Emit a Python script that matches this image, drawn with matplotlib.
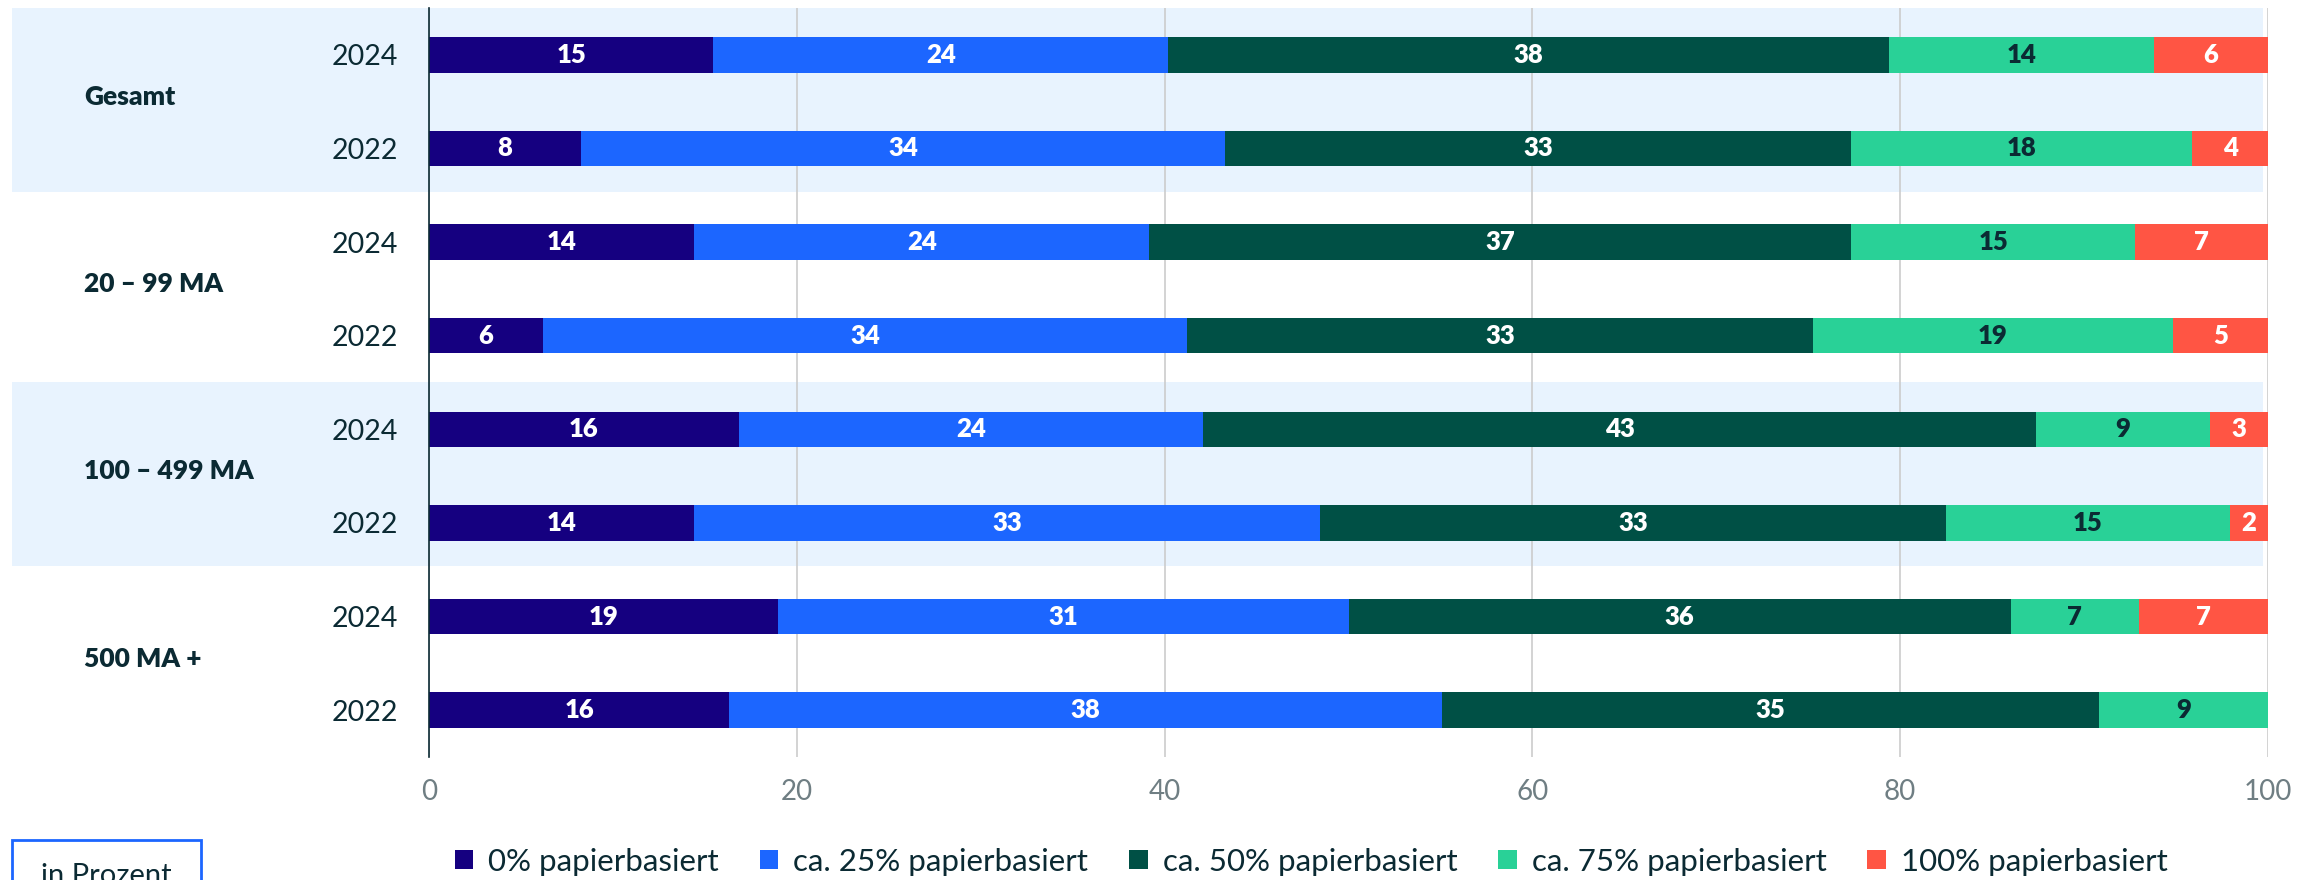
import matplotlib.pyplot as plt
import numpy as np
from matplotlib.patches import Patch, Rectangle
from matplotlib.transforms import blended_transform_factory

plt.rcParams['font.family'] = ['Lato', 'DejaVu Sans']

# categories (top to bottom)
groups = ['Gesamt', '20 – 99 MA', '100 – 499 MA', '500 MA +']
years = ['2024', '2022']

# series values per bar (top to bottom), as printed in the chart
series_names = ['0% papierbasiert', 'ca. 25% papierbasiert', 'ca. 50% papierbasiert',
                'ca. 75% papierbasiert', '100% papierbasiert']
p0 = [15, 8, 14, 6, 16, 14, 19, 16]
p25 = [24, 34, 24, 34, 24, 33, 31, 38]
p50 = [38, 33, 37, 33, 43, 33, 36, 35]
p75 = [14, 18, 15, 19, 9, 15, 7, 9]
p100 = [6, 4, 7, 5, 3, 2, 7, 0]

colors = ['#150080', '#1c66ff', '#005045', '#29d197', '#ff5544']
label_colors = ['white', 'white', 'white', '#0b2a33', 'white']
dark = '#0b2a33'

data = np.array([p0, p25, p50, p75, p100], dtype=float)
# stacked as percent of the total, like the original
share = data / data.sum(axis=0) * 100

fig = plt.figure(figsize=(23.18, 8.8), dpi=100)
ax = fig.add_axes([429 / 2318, 1 - 757 / 880, 1839 / 2318, 749 / 880])

n = share.shape[1]
y = np.arange(n)

# light blue bands behind groups 1 and 3
trans = blended_transform_factory(ax.transAxes, ax.transData)
for g in [0, 2]:
    ax.add_patch(Rectangle((-0.2268, 2 * g - 0.5), 0.2268 + 0.9973, 2.0 - 0.04,
                           transform=trans, facecolor='#e8f3fe', edgecolor='none',
                           clip_on=False, zorder=0))

left = np.zeros(n)
for i in range(len(series_names)):
    ax.barh(y, share[i], left=left, height=0.38, color=colors[i], zorder=3,
            label=series_names[i])
    for j in range(n):
        if data[i, j] > 0:
            ax.text(left[j] + share[i, j] / 2, y[j], '%d' % data[i, j], ha='center',
                    va='center', fontsize=18.5, fontweight='heavy', color=label_colors[i],
                    zorder=4)
    left = left + share[i]

ax.set_xlim(0, 100)
ax.set_ylim(n - 0.5, -0.5)
ax.set_xticks([0, 20, 40, 60, 80, 100])
ax.set_yticks(y)
ax.set_yticklabels(years * len(groups))
ax.tick_params(axis='y', length=0, pad=22, labelsize=20.5, labelcolor=dark)
ax.tick_params(axis='x', length=0, pad=16, labelsize=20, labelcolor='#6f7e83')
ax.grid(axis='x', color='#cccccc', lw=1.2, zorder=1)
ax.set_axisbelow(True)
for s in ['top', 'right', 'bottom']:
    ax.spines[s].set_visible(False)
ax.spines['left'].set_color(dark)
ax.spines['left'].set_linewidth(1.2)
ax.spines['left'].set_zorder(5)
ax.patch.set_alpha(0)

for k, g in enumerate(groups):
    ax.text(-0.1876, 2 * k + 0.45, g, transform=trans, ha='left', va='center',
            fontsize=19, fontweight='heavy', color=dark)

handles = [Patch(facecolor=c, edgecolor='none') for c in colors]
fig.legend(handles, series_names, loc='center', bbox_to_anchor=(0.5656, 0.021), ncol=5,
           frameon=False, fontsize=22.5, handlelength=0.6, handleheight=0.6,
           handletextpad=0.48, columnspacing=1.3, labelcolor=dark)

# "in Prozent" box at the bottom left, cut off by the figure edge
fig.patches.append(Rectangle((12 / 2318, -0.1), 189 / 2318, 0.1 + 40 / 880,
                             transform=fig.transFigure, facecolor='white',
                             edgecolor='#1c66ff', lw=2))
fig.text(106 / 2318, 0.004, 'in Prozent', ha='center', va='center', fontsize=21, color=dark)

fig.savefig('out.png', dpi=100)
